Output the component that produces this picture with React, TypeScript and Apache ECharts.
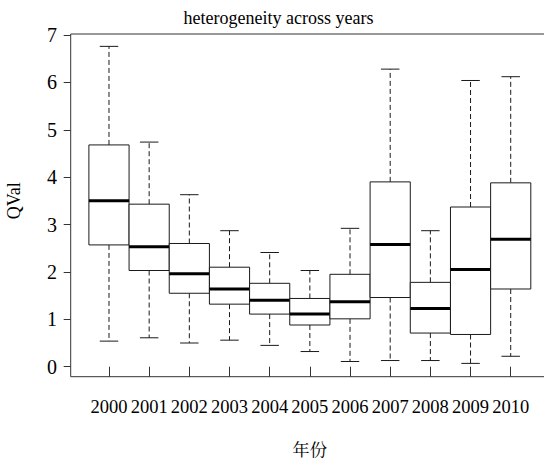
import React, { useEffect, useRef } from "react";
import * as echarts from "echarts";

const years = ["2000", "2001", "2002", "2003", "2004", "2005", "2006", "2007", "2008", "2009", "2010"];
const lowerWhisker = [0.54, 0.61, 0.5, 0.56, 0.45, 0.32, 0.11, 0.13, 0.13, 0.07, 0.22];
const q1 = [2.57, 2.03, 1.55, 1.32, 1.11, 0.88, 1.01, 1.46, 0.71, 0.68, 1.64];
const medians = [3.5, 2.53, 1.96, 1.64, 1.4, 1.11, 1.37, 2.58, 1.23, 2.05, 2.69];
const q3 = [4.68, 3.43, 2.6, 2.1, 1.76, 1.44, 1.95, 3.9, 1.78, 3.37, 3.88];
const upperWhisker = [6.76, 4.74, 3.63, 2.87, 2.41, 2.03, 2.92, 6.28, 2.87, 6.04, 6.12];
const yTicks = [0, 1, 2, 3, 4, 5, 6, 7];

const FONT = "'Liberation Serif', 'Times New Roman', 'Noto Serif CJK SC', 'Noto Sans CJK SC', serif";

export default function App() {
  const ref = useRef<HTMLDivElement>(null);
  useEffect(() => {
    if (!ref.current) return;
    const chart = echarts.init(ref.current, undefined, { renderer: "svg" });
    const data = years.map((_, i) => [i, lowerWhisker[i], q1[i], medians[i], q3[i], upperWhisker[i]]);
    const lineColor = "#1a1a1a";
    chart.setOption({
      animation: false,
      backgroundColor: "#ffffff",
      grid: { left: 88.9, top: 35, width: 441.9, height: 331.7, containLabel: false, outerBoundsMode: "none" },
      xAxis: {
        type: "category",
        data: years,
        boundaryGap: true,
        offset: 10,
        name: "年份",
        nameLocation: "middle",
        nameGap: 64.5,
        nameTextStyle: { fontFamily: FONT, fontSize: 17.5, color: "#000" },
        axisLine: { show: false },
        axisTick: { show: true, alignWithLabel: true, length: 10, lineStyle: { color: "#333", width: 1 } },
        axisLabel: { fontFamily: FONT, fontSize: 18.5, color: "#000", margin: 21.5, interval: 0 },
        splitLine: { show: false },
      },
      yAxis: {
        type: "value",
        min: yTicks[0],
        max: yTicks[yTicks.length - 1],
        interval: 1,
        offset: 18.2,
        name: "QVal",
        nameLocation: "middle",
        nameRotate: 90,
        nameGap: 47.5,
        nameTextStyle: { fontFamily: FONT, fontSize: 18, color: "#000" },
        axisLine: { show: false },
        axisTick: { show: true, length: 7, lineStyle: { color: "#333", width: 1 } },
        axisLabel: { fontFamily: FONT, fontSize: 20, color: "#000", margin: 13.7 },
        splitLine: { show: false },
      },
      graphic: [
        {
          type: "rect",
          shape: { x: 70.7, y: 34, width: 480, height: 342.7 },
          style: { fill: "none", stroke: "#333", lineWidth: 1 },
          silent: true,
          z: 10,
        },
        {
          type: "text",
          x: 278.5,
          y: 17.5,
          style: {
            text: "heterogeneity across years",
            fontFamily: FONT,
            fontSize: 18,
            fill: "#000",
            textAlign: "center",
            textVerticalAlign: "middle",
          },
        },
      ],
      series: [
        {
          type: "custom",
          data,
          encode: { x: 0, y: [1, 2, 3, 4, 5] },
          renderItem: (params: any, api: any) => {
            const idx = api.value(0);
            const band = api.size([1, 0])[0];
            const pLow = api.coord([idx, api.value(1)]);
            const pQ1 = api.coord([idx, api.value(2)]);
            const pMed = api.coord([idx, api.value(3)]);
            const pQ3 = api.coord([idx, api.value(4)]);
            const pHigh = api.coord([idx, api.value(5)]);
            const cx = pMed[0];
            const half = band * 0.5;
            const capHalf = band * 0.23;
            const dashed = { stroke: lineColor, lineWidth: 1, lineDash: [5, 3], fill: "none" };
            const solid = { stroke: lineColor, lineWidth: 1, fill: "none" };
            return {
              type: "group",
              children: [
                { type: "line", shape: { x1: cx, y1: pQ3[1], x2: cx, y2: pHigh[1] }, style: dashed },
                { type: "line", shape: { x1: cx, y1: pQ1[1], x2: cx, y2: pLow[1] }, style: dashed },
                { type: "line", shape: { x1: cx - capHalf, y1: pHigh[1], x2: cx + capHalf, y2: pHigh[1] }, style: solid },
                { type: "line", shape: { x1: cx - capHalf, y1: pLow[1], x2: cx + capHalf, y2: pLow[1] }, style: solid },
                {
                  type: "rect",
                  shape: { x: cx - half, y: pQ3[1], width: band, height: pQ1[1] - pQ3[1] },
                  style: { fill: "#ffffff", stroke: lineColor, lineWidth: 1 },
                },
                { type: "line", shape: { x1: cx - half, y1: pMed[1], x2: cx + half, y2: pMed[1] }, style: { stroke: "#000", lineWidth: 3 } },
              ],
            };
          },
        },
      ],
    });
    return () => chart.dispose();
  }, []);
  return <div ref={ref} style={{ position: "fixed", left: 0, top: 0, width: 544, height: 459 }} />;
}
